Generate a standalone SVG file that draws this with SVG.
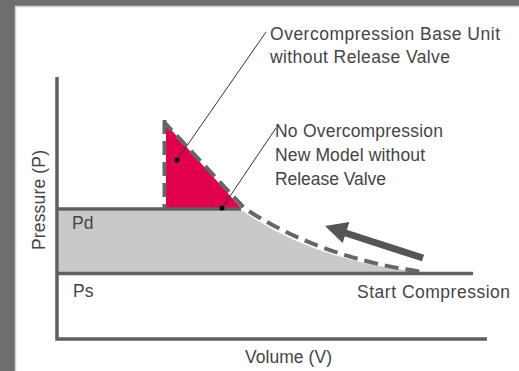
<svg xmlns="http://www.w3.org/2000/svg" width="519" height="371" viewBox="0 0 519 371">
<style>
.t{font-family:"Liberation Sans",Arial,sans-serif;font-size:17.5px;fill:#444}
.ax{stroke:#5f5f5f;stroke-width:3.5;fill:none}
.dash{stroke:#666;stroke-width:4;fill:none;stroke-dasharray:14 7}
.call{stroke:#333;stroke-width:1;fill:none}
</style>
<rect x="0" y="0" width="519" height="371" fill="#fff"/>
<rect x="0" y="0" width="519" height="6" fill="#6e6e6e"/>
<rect x="0" y="0" width="15" height="371" fill="#6e6e6e"/>
<path d="M15.5 371V6.5H519" stroke="#cfcfcf" stroke-width="1.5" fill="none"/>
<g id="fill-area">
<path d="M59 210.5H242Q318 263 423 272H59Z" fill="#c9c9c9"/>
<path id="red" d="M166 124L166 208L241 208Z" fill="#e0004d"/>
</g>
<g id="axes">
<path class="ax" d="M57 77V339H487"/>
<path class="ax" d="M57 209H241"/>
<path class="ax" d="M57 273.5H473"/>
</g>
<g id="curves">
<path class="dash" d="M164.5 120V208"/>
<path class="dash" d="M165 123L244 208Q320 258 423 272" stroke-dashoffset="4"/>
</g>
<g id="arrow">
<line x1="423" y1="258" x2="344" y2="232.5" stroke="#555" stroke-width="7"/>
<polygon points="325,226 342.7,243.1 349.3,222.1" fill="#555"/>
</g>
<g id="connectors">
<line class="call" x1="177" y1="160" x2="266" y2="32"/>
<circle cx="177" cy="160" r="2.5" fill="#000"/>
<line class="call" x1="222" y1="208" x2="276" y2="128"/>
<circle cx="222" cy="208" r="2.5" fill="#000"/>
</g>
<g id="labels">
<text class="t" x="270" y="40" textLength="230">Overcompression Base Unit</text>
<text class="t" x="270" y="63" textLength="180">without Release Valve</text>
<text class="t" x="275" y="137" textLength="168">No Overcompression</text>
<text class="t" x="275" y="161" textLength="150">New Model without</text>
<text class="t" x="275" y="185" textLength="111">Release Valve</text>
<text class="t" x="72" y="229">Pd</text>
<text class="t" x="73" y="297">Ps</text>
<text class="t" x="357" y="298" textLength="153">Start Compression</text>
<text class="t" x="245" y="363" textLength="87">Volume (V)</text>
<text class="t" transform="translate(45 250) rotate(-90)" textLength="100">Pressure (P)</text>
</g>
</svg>
